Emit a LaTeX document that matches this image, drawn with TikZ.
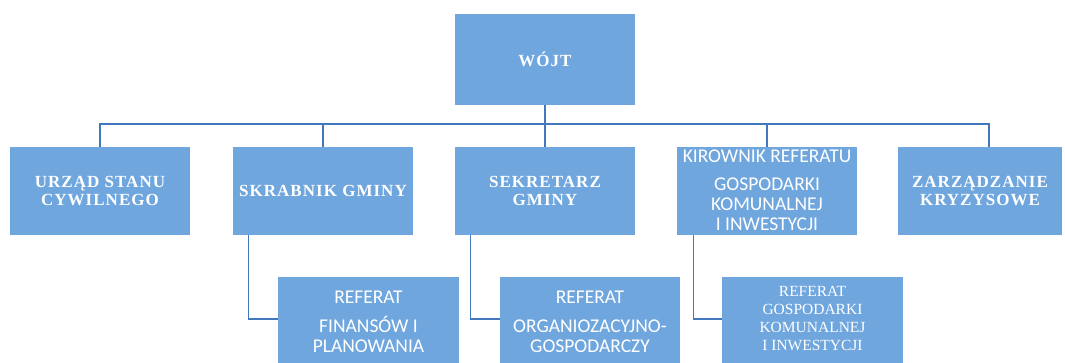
\documentclass[tikz,border=0pt]{standalone}
\usepackage{fontspec}
\setmainfont{Liberation Serif}
\newfontfamily\bserif{Liberation Serif}[LetterSpace=6]
\newfontfamily\calib{Carlito}
\usetikzlibrary{calc}
\definecolor{boxfill}{RGB}{112,166,222}
\definecolor{linkblue}{RGB}{66,120,190}
\begin{document}
\begin{tikzpicture}[x=1pt,y=-1pt,
  box/.style={fill=boxfill, draw=none, inner sep=0pt, text=white, align=center},
  toptext/.style={font=\bserif\bfseries\fontsize{17}{18}\selectfont},
  sanstext/.style={font=\calib\fontsize{19.5}{20}\selectfont},
  serreg/.style={font=\fontsize{15.5}{17.7}\selectfont},
  lbl/.style={text=white, align=center, inner sep=0pt},
  link/.style={draw=linkblue, line width=1.3pt}]
\clip (0,0) rectangle (1065,363);
\fill[white] (0,0) rectangle (1065,363);

\node[box,toptext,minimum width=180,minimum height=91] (wojt) at (545,59.5) {WÓJT};

\node[box,toptext,minimum width=180,minimum height=88] (usc) at (100,191) {URZĄD STANU\\CYWILNEGO};
\node[box,toptext,minimum width=180,minimum height=88] (skarb) at (323,191) {SKRABNIK GMINY};
\node[box,toptext,minimum width=180,minimum height=88] (sekr) at (545,191) {SEKRETARZ\\GMINY};
\node[box,minimum width=180,minimum height=88,
  label={[lbl,sanstext,yshift=1pt]center:KIROWNIK REFERATU\\[8pt]GOSPODARKI\\KOMUNALNEJ\\I INWESTYCJI}] (kier) at (767,191) {};
\node[box,toptext,minimum width=164,minimum height=88] (zarz) at (980,191) {ZARZĄDZANIE\\KRYZYSOWE};

\node[box,minimum width=181,minimum height=100,
  label={[lbl,sanstext,yshift=5.5pt]center:REFERAT\\[9pt]FINANSÓW I\\PLANOWANIA}] (ref1) at (368.5,327) {};
\node[box,minimum width=180,minimum height=100,
  label={[lbl,sanstext,yshift=5.5pt]center:REFERAT\\[9pt]ORGANIOZACYJNO-\\GOSPODARCZY}] (ref2) at (590,327) {};
\node[box,minimum width=181,minimum height=100,
  label={[lbl,serreg,yshift=8.5pt]center:REFERAT\\GOSPODARKI\\KOMUNALNEJ\\I INWESTYCJI}] (ref3) at (812.5,327) {};

\coordinate (bus) at (545,124);
\coordinate (zc) at ($(zarz.north)+(9,0)$);
\draw[link] (wojt.south) -- (bus);
\draw[link] (usc.north) |- (bus) -| (zc);
\draw[link] (skarb.north) -- (skarb.north |- bus);
\draw[link] (sekr.north) -- (bus);
\draw[link] (kier.north) -- (kier.north |- bus);

\draw[link] ($(skarb.south west)+(16,0)$) |- ($(ref1.west)+(0,-8)$);
\draw[link] ($(sekr.south west)+(16,0)$) |- ($(ref2.west)+(0,-8)$);
\draw[link] ($(kier.south west)+(17,0)$) |- ($(ref3.west)+(0,-8)$);
\end{tikzpicture}
\end{document}
